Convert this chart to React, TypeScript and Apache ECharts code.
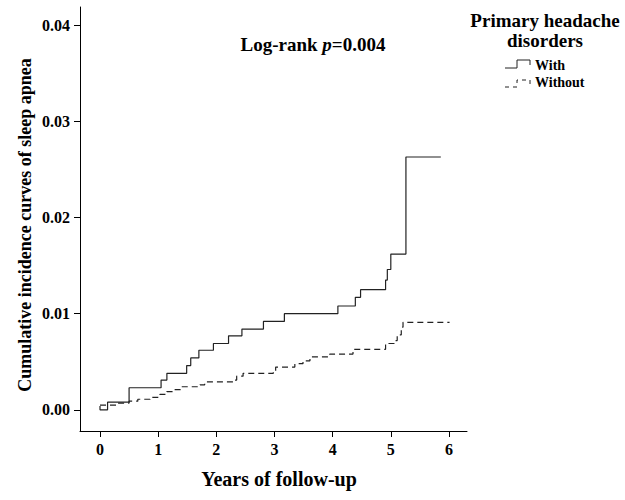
import React, { useEffect, useRef } from "react";
import * as echarts from "echarts";

const withTimes = [0, 0, 0.13, 0.5, 1.05, 1.15, 1.49, 1.56, 1.7, 1.95, 2.21, 2.44, 2.81, 3.17, 4.09, 4.39, 4.48, 4.91, 4.94, 5.0, 5.26, 5.86];
const withValues = [0.0004, 0.0, 0.0008, 0.0023, 0.0031, 0.0038, 0.0046, 0.0054, 0.0062, 0.0069, 0.0077, 0.0084, 0.0092, 0.01, 0.0108, 0.0117, 0.0125, 0.0135, 0.0146, 0.0162, 0.0263, 0.0263];

const withoutTimes = [0, 0.3, 0.5, 0.65, 0.86, 1.03, 1.15, 1.26, 1.4, 1.72, 1.8, 2.29, 2.35, 2.46, 2.98, 3.02, 3.35, 3.49, 3.61, 3.95, 4.35, 4.91, 5.07, 5.11, 5.18, 5.21, 6.01];
const withoutValues = [0.0005, 0.0007, 0.0009, 0.0011, 0.0013, 0.0016, 0.0019, 0.0021, 0.0024, 0.0026, 0.0029, 0.0031, 0.0035, 0.0038, 0.004, 0.00445, 0.0048, 0.0051, 0.0055, 0.0058, 0.0063, 0.0069, 0.0072, 0.0078, 0.0086, 0.0091, 0.0091];

const xTicks = [0, 1, 2, 3, 4, 5, 6];
const yTicks = [0, 0.01, 0.02, 0.03, 0.04];

const FONT = "'Liberation Serif', 'Times New Roman', serif";

export default function App() {
  const ref = useRef<HTMLDivElement>(null);
  useEffect(() => {
    if (!ref.current) return;
    const chart = echarts.init(ref.current, null, { renderer: "svg" });
    const zip = (t: number[], v: number[]) => t.map((x, i) => [x, v[i]]);
    chart.setOption({
      animation: false,
      backgroundColor: "#ffffff",
      grid: { left: 80, right: 158, top: 7, bottom: 69 },
      xAxis: {
        type: "value",
        min: -0.344,
        max: 6.31,
        splitLine: { show: false },
        axisLine: { onZero: false, lineStyle: { color: "#000", width: 1 } },
        axisTick: { show: true, length: 6, customValues: xTicks, lineStyle: { color: "#000" } },
        axisLabel: {
          customValues: xTicks,
          fontFamily: FONT,
          fontWeight: "bold",
          fontSize: 16,
          color: "#000",
          margin: 10,
        },
      },
      yAxis: {
        type: "value",
        min: -0.0022,
        max: 0.0419,
        splitLine: { show: false },
        axisLine: { show: true, onZero: false, lineStyle: { color: "#000", width: 1 } },
        axisTick: { show: true, length: 6, customValues: yTicks, lineStyle: { color: "#000" } },
        axisLabel: {
          customValues: yTicks,
          formatter: (v: number) => v.toFixed(2),
          fontFamily: FONT,
          fontWeight: "bold",
          fontSize: 16,
          color: "#000",
          margin: 10,
        },
      },
      series: [
        {
          name: "With",
          type: "line",
          step: "end",
          data: zip(withTimes, withValues),
          showSymbol: false,
          lineStyle: { color: "#222", width: 1.2 },
        },
        {
          name: "Without",
          type: "line",
          step: "end",
          data: zip(withoutTimes, withoutValues),
          showSymbol: false,
          lineStyle: { color: "#222", width: 1.2, type: [6, 4] },
        },
      ],
      graphic: [
        {
          type: "text",
          x: 313,
          y: 44,
          style: {
            text: "{a|Log-rank }{b|p}{a|=0.004}",
            align: "center",
            verticalAlign: "middle",
            rich: {
              a: { fontFamily: FONT, fontWeight: "bold", fontSize: 19, fill: "#000" },
              b: { fontFamily: FONT, fontWeight: "bold", fontStyle: "italic", fontSize: 19, fill: "#000" },
            },
          },
        },
        {
          type: "text",
          x: 25,
          y: 225,
          rotation: Math.PI / 2,
          style: {
            text: "Cumulative incidence curves of sleep apnea",
            align: "center",
            verticalAlign: "middle",
            font: `bold 18px ${FONT}`,
            fill: "#000",
          },
        },
        {
          type: "text",
          x: 279,
          y: 479,
          style: {
            text: "Years of follow-up",
            align: "center",
            verticalAlign: "middle",
            font: `bold 20px ${FONT}`,
            fill: "#000",
          },
        },
        {
          type: "text",
          x: 545,
          y: 30,
          style: {
            text: "Primary headache\ndisorders",
            align: "center",
            verticalAlign: "middle",
            font: `bold 19px ${FONT}`,
            fill: "#000",
            lineHeight: 20,
          },
        },
        {
          type: "polyline",
          shape: { points: [[505, 68], [517, 68], [517, 60], [530, 60], [530, 65]] },
          style: { stroke: "#222", lineWidth: 1, fill: null },
        },
        {
          type: "text",
          x: 535,
          y: 65,
          style: { text: "With", font: `bold 14px ${FONT}`, fill: "#000", verticalAlign: "middle" },
        },
        {
          type: "polyline",
          shape: { points: [[505, 87], [517, 87], [517, 80], [530, 80], [530, 84]] },
          style: { stroke: "#222", lineWidth: 1, fill: null, lineDash: [4, 4] },
        },
        {
          type: "text",
          x: 535,
          y: 82,
          style: { text: "Without", font: `bold 14px ${FONT}`, fill: "#000", verticalAlign: "middle" },
        },
      ],
    });
    return () => chart.dispose();
  }, []);
  return (
    <div
      ref={ref}
      style={{ position: "fixed", left: 0, top: 0, width: 625, height: 500, background: "#fff" }}
    />
  );
}
